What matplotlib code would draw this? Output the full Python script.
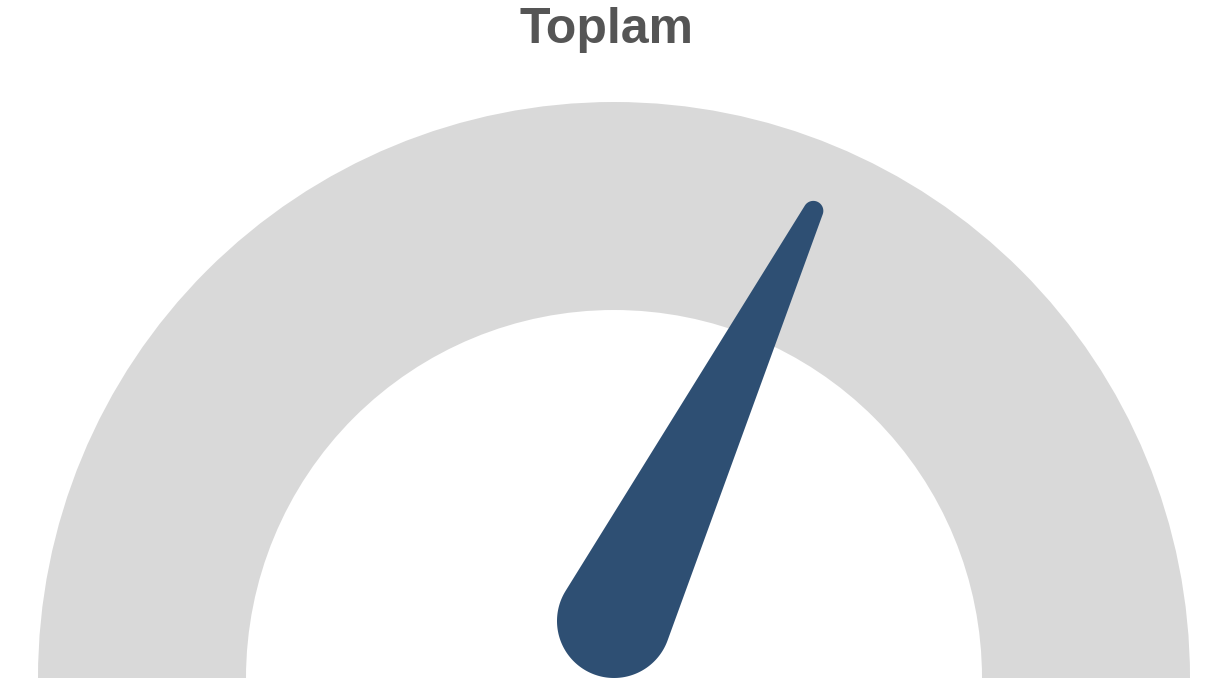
import numpy as np
import matplotlib.pyplot as plt
from matplotlib.patches import Wedge, Polygon

title = "Toplam"
value = 64.4
vmin, vmax = 0, 100

W, H = 1207, 685
fig = plt.figure(figsize=(W / 100, H / 100), dpi=100)
ax = fig.add_axes([0, 0, 1, 1])
ax.set_xlim(0, W)
ax.set_ylim(0, H)
ax.set_aspect('equal')
ax.axis('off')

# gauge band
cx, cy = 614, 7
r_out, r_in = 576, 368
ax.add_patch(Wedge((cx, cy), r_out, 0, 180, width=r_out - r_in, color='#d9d9d9', lw=0))

# needle: tapered shape between pivot circle and tip circle
px, py = 614, 64
R, r = 57, 10
length = 456
frac = (value - vmin) / (vmax - vmin)
theta = np.pi * (1 - frac)
tx, ty = px + length * np.cos(theta), py + length * np.sin(theta)
phi = np.arccos((R - r) / length)
a_big = np.linspace(theta + phi, theta + 2 * np.pi - phi, 120)
a_small = np.linspace(theta - phi, theta + phi, 40)
pts = np.vstack([
    np.column_stack([px + R * np.cos(a_big), py + R * np.sin(a_big)]),
    np.column_stack([tx + r * np.cos(a_small), ty + r * np.sin(a_small)]),
])
ax.add_patch(Polygon(pts, closed=True, color='#2e4f73', lw=0))

ax.text(607, 655, title, ha='center', va='center', fontsize=36, fontweight='bold',
        color='#555555', family='Liberation Sans')

fig.savefig('out.png', dpi=100)
